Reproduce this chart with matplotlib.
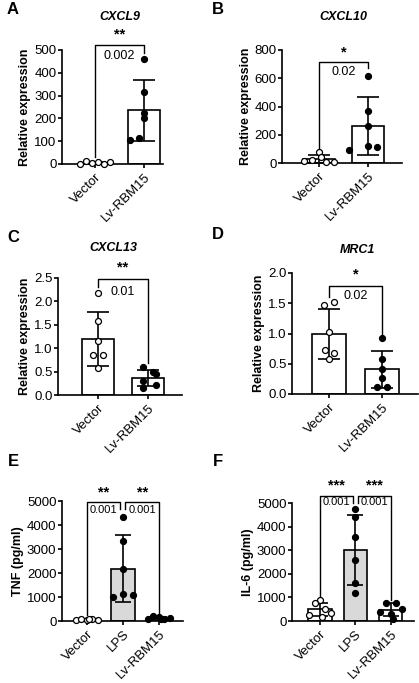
import numpy as np
from matplotlib import pyplot as plt

plt.rcParams['font.family'] = ['Liberation Sans', 'DejaVu Sans']

# values
cxcl9_vector = [2, 12, 5, 10, 1, 8]
cxcl9_rbm15 = [460, 315, 225, 200, 115, 105]
cxcl10_vector = [75, 40, 20, 15, 10, 5]
cxcl10_rbm15 = [615, 370, 265, 120, 110, 95]
cxcl13_vector = [2.17, 1.58, 1.15, 0.85, 0.85, 0.58]
cxcl13_rbm15 = [0.6, 0.5, 0.45, 0.3, 0.22, 0.15]
mrc1_vector = [1.47, 1.52, 1.02, 0.72, 0.68, 0.58]
mrc1_rbm15 = [0.92, 0.58, 0.42, 0.27, 0.12, 0.12]
tnf_vector = [60, 90, 40, 70, 50, 80]
tnf_lps = [4350, 3320, 2150, 1130, 1080, 1000]
tnf_rbm15 = [100, 200, 150, 100, 120, 90]
il6_vector = [880, 750, 520, 250, 180, 350]
il6_lps = [4750, 4400, 3580, 2580, 1600, 1170]
il6_rbm15 = [780, 780, 500, 400, 300, 100]

two_groups = ["Vector", "Lv-RBM15"]
three_groups = ["Vector", "LPS", "Lv-RBM15"]

W, H = 419, 683
fig = plt.figure(figsize=(W / 100, H / 100), dpi=100)


def px_axes(left, right, top, bottom):
    return fig.add_axes([left / W, 1 - bottom / H, (right - left) / W, (bottom - top) / H])


def draw_panel(ax, names, groups, offsets, fills, bar_colors, ylim, yticks, ylabel,
               xlim, capsize=8):
    x = np.arange(len(groups))
    means = [np.mean(g) for g in groups]
    sds = [np.std(g, ddof=1) for g in groups]
    ax.bar(x, means, width=0.65, color=bar_colors, edgecolor="black", linewidth=1.2, zorder=1)
    ax.errorbar(x, means, yerr=sds, fmt="none", ecolor="black", elinewidth=1.2,
                capsize=capsize, capthick=1.2, zorder=2)
    for i, g in enumerate(groups):
        face = "white" if fills[i] == "open" else "black"
        ax.plot(x[i] + np.array(offsets[i]), g, "o", ms=4.3, mfc=face, mec="black",
                mew=0.9, zorder=3, clip_on=False)
    ax.set_xlim(*xlim)
    ax.set_ylim(*ylim)
    ax.set_yticks(yticks)
    ax.set_xticks(x)
    ax.set_xticklabels(names, rotation=45, ha="right", rotation_mode="anchor", fontsize=9.5)
    ax.tick_params(axis="y", labelsize=9.5, width=1.2, length=3, pad=1)
    ax.tick_params(axis="x", width=1.2, length=3, pad=2)
    ax.set_ylabel(ylabel, fontsize=9, fontweight="bold", labelpad=2)
    for s in ["top", "right"]:
        ax.spines[s].set_visible(False)
    for s in ["left", "bottom"]:
        ax.spines[s].set_linewidth(1.2)


def bracket(ax, x1, x2, top, y1, y2, stars, p, star_y, p_y, pfs=9):
    ax.plot([x1, x1, x2, x2], [y1, top, top, y2], color="black", lw=1.0, clip_on=False)
    xm = (x1 + x2) / 2
    ax.text(xm, star_y, stars, ha="center", va="center", fontsize=10.5, fontweight="bold")
    ax.text(xm, p_y, p, ha="center", va="center", fontsize=pfs)


def panel_label(x, y, s):
    fig.text(x / W, 1 - y / H, s, fontsize=12, fontweight="bold", ha="center", va="center")


def gene_title(x, y, s):
    fig.text(x / W, 1 - y / H, s, fontsize=9, fontweight="bold", style="italic",
             ha="center", va="center")


# A
ax = px_axes(62, 163, 50, 164)
draw_panel(ax, two_groups, [cxcl9_vector, cxcl9_rbm15],
           [[-0.3, -0.18, -0.06, 0.06, 0.18, 0.3], [0, 0, 0, 0, -0.1, -0.29]],
           ["open", "filled"], ["white", "white"], (0, 500), range(0, 501, 100),
           "Relative expression", (-0.67, 1.39))
bracket(ax, 0, 1, 522, 30, 485, "**", "0.002", 570, 475)
panel_label(13, 10, "A")
gene_title(120, 17, "CXCL9")

# B
ax = px_axes(282, 402, 50, 163)
draw_panel(ax, two_groups, [cxcl10_vector, cxcl10_rbm15],
           [[0, 0.05, -0.15, -0.3, 0.15, 0.3], [-0.01, 0, 0, 0, 0.19, -0.39]],
           ["open", "filled"], ["white", "white"], (0, 800), range(0, 801, 200),
           "Relative expression", (-0.75, 1.69))
bracket(ax, 0, 1, 715, 92, 675, "*", "0.02", 785, 645)
panel_label(218, 10, "B")
gene_title(343, 17, "CXCL10")

# C
ax = px_axes(58, 182, 278, 395)
draw_panel(ax, two_groups, [cxcl13_vector, cxcl13_rbm15],
           [[0, 0, 0, -0.1, 0.1, 0], [-0.1, 0.1, 0.15, -0.1, 0.15, -0.1]],
           ["open", "filled"], ["white", "white"], (0, 2.5), np.arange(0, 2.51, 0.5),
           "Relative expression", (-0.8, 1.68))
bracket(ax, 0, 1, 2.48, 2.3, 0.68, "**", "0.01", 2.73, 2.2)
ax.yaxis.set_major_formatter(plt.FormatStrFormatter("%.1f"))
panel_label(13, 237, "C")
gene_title(113, 248, "CXCL13")

# D
ax = px_axes(292, 418, 273, 394)
draw_panel(ax, two_groups, [mrc1_vector, mrc1_rbm15],
           [[-0.1, 0.1, 0, -0.08, 0.1, 0], [0, 0, 0, 0, -0.1, 0.1]],
           ["open", "filled"], ["white", "white"], (0, 2.0), np.arange(0, 2.01, 0.5),
           "Relative expression", (-0.7, 1.68))
bracket(ax, 0, 1, 1.785, 1.6, 0.98, "*", "0.02", 1.97, 1.62)
ax.yaxis.set_major_formatter(plt.FormatStrFormatter("%.1f"))
panel_label(218, 234, "D")
gene_title(357, 250, "MRC1")

# E
ax = px_axes(62, 183, 501, 621)
draw_panel(ax, three_groups, [tnf_vector, tnf_lps, tnf_rbm15],
           [[-0.3, -0.15, 0, 0.15, 0.3, 0.05], [0, 0, 0, 0, 0.28, -0.26],
            [-0.3, -0.15, 0, 0.15, 0.3, 0.05]],
           ["open", "filled", "filled"], ["white", "#d9d9d9", "white"], (0, 5000),
           range(0, 5001, 1000), "TNF (pg/ml)", (-0.69, 2.67), capsize=6)
bracket(ax, 0, 0.93, 4960, 250, 4650, "**", "0.001", 5340, 4620, pfs=8)
bracket(ax, 1.07, 2, 4960, 4650, 280, "**", "0.001", 5340, 4620, pfs=8)
panel_label(13, 462, "E")

# F
ax = px_axes(292, 414, 503, 621)
draw_panel(ax, three_groups, [il6_vector, il6_lps, il6_rbm15],
           [[0, -0.15, 0.15, -0.3, 0.05, 0.3], [0, 0, 0, 0, 0, 0],
            [-0.15, 0.15, 0.3, -0.3, 0, 0.05]],
           ["open", "filled", "filled"], ["white", "#d9d9d9", "white"], (0, 5000),
           range(0, 5001, 1000), "IL-6 (pg/ml)", (-0.79, 2.65), capsize=6)
bracket(ax, 0, 0.93, 5300, 1000, 4980, "***", "0.001", 5730, 5040, pfs=8)
bracket(ax, 1.07, 2, 5300, 4980, 900, "***", "0.001", 5730, 5040, pfs=8)
panel_label(218, 462, "F")

plt.savefig("out.png", dpi=100)
